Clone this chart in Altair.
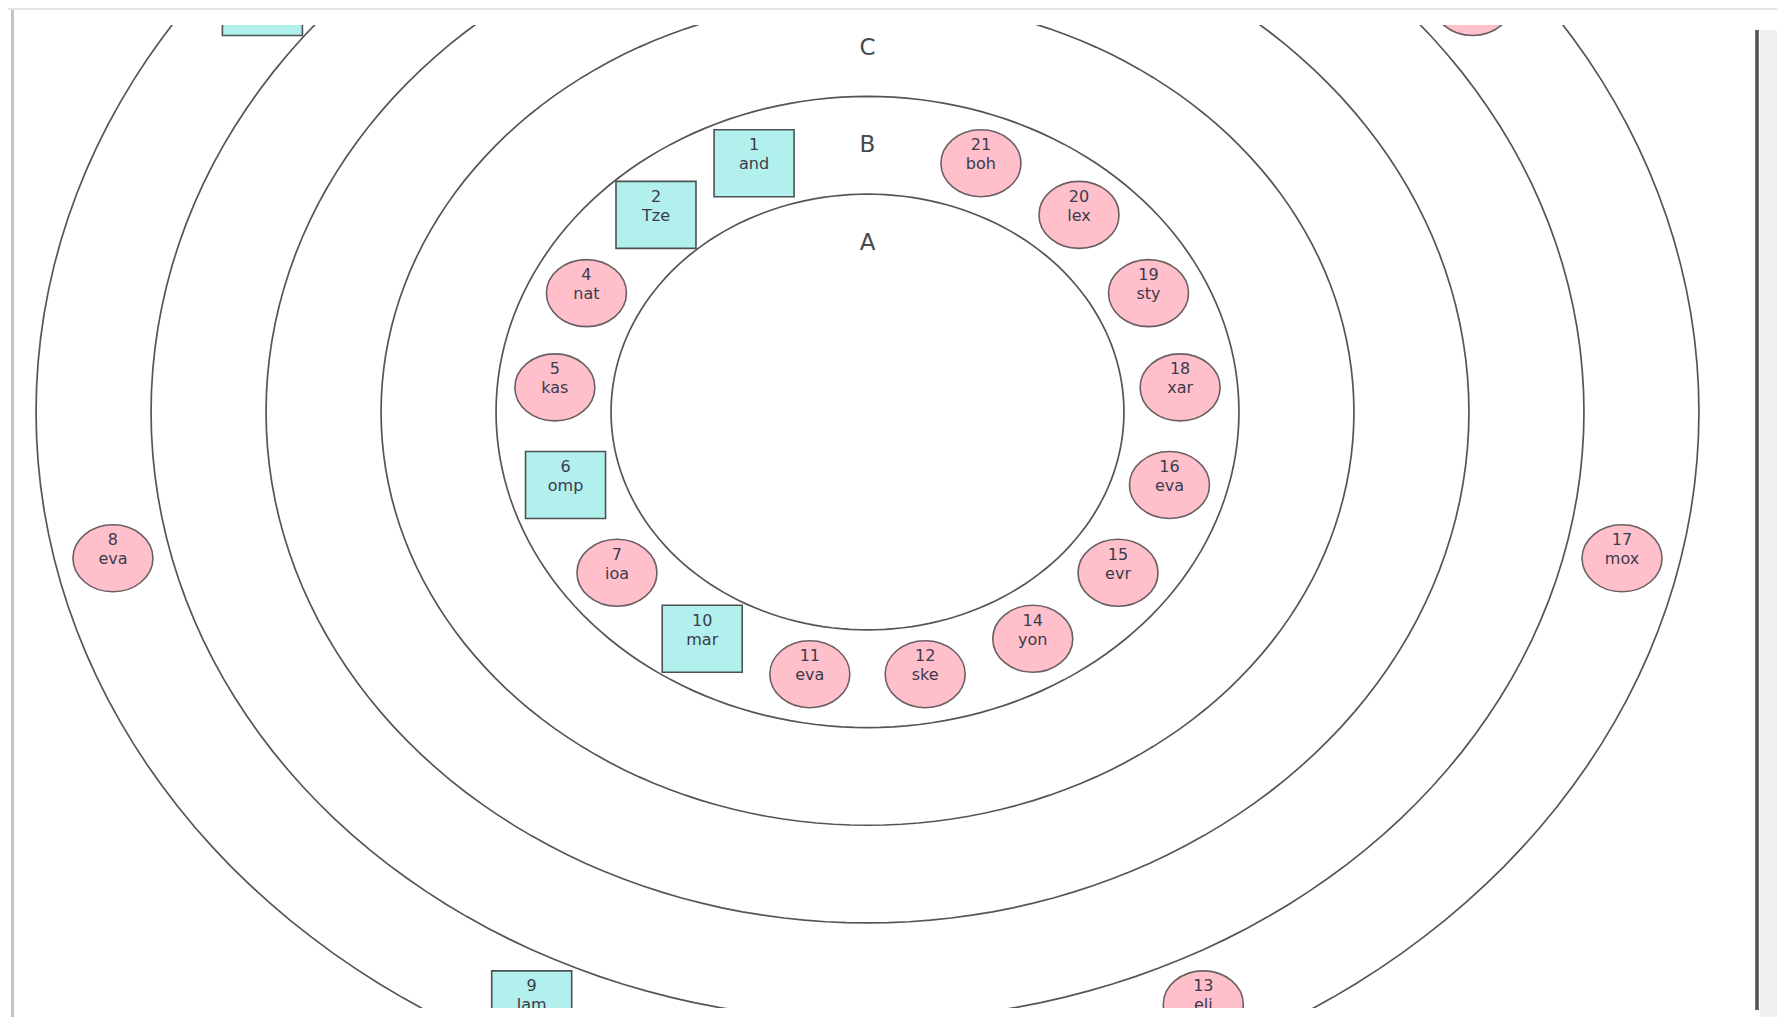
import altair as alt
import pandas as pd

# ---- data -------------------------------------------------------------
ring_names = ["A", "B", "C", "D", "E", "F"]
ring_outer = [2.23, 3.23, 4.23, 5.23, 6.23, 7.23]   # outer radius of each ring
ring_slots = [1, 17, 1, 1, 1, 7]                      # slots around each ring (slot 0 = label)

node_ids = [1, 2, 3, 4, 5, 6, 7, 8, 9, 10, 11, 12, 13, 14, 15, 16, 17, 18, 19, 20, 21, 22]
node_names = ["and", "Tze", "", "nat", "kas", "omp", "ioa", "eva", "lam", "mar", "eva",
              "ske", "eli", "yon", "evr", "eva", "mox", "xar", "sty", "lex", "boh", ""]
node_kind = ["box", "box", "box", "ellipse", "ellipse", "box", "ellipse", "ellipse", "box",
             "box", "ellipse", "ellipse", "ellipse", "ellipse", "ellipse", "ellipse",
             "ellipse", "ellipse", "ellipse", "ellipse", "ellipse", "ellipse"]
node_ring = ["B", "B", "F", "B", "B", "B", "B", "F", "F", "B", "B",
             "B", "F", "B", "B", "B", "F", "B", "B", "B", "B", "F"]
node_slot = [1, 2, 1, 3, 4, 5, 6, 2, 3, 7, 8, 9, 4, 10, 11, 12, 5, 13, 14, 15, 16, 6]

rings = pd.DataFrame({"ring": ring_names, "outer": ring_outer, "slots": ring_slots})
rings["mid"] = rings["outer"] - 0.5

nodes = pd.DataFrame({"id": [str(i) for i in node_ids], "name": node_names,
                      "kind": node_kind, "ring": node_ring, "slot": node_slot})
nodes = nodes.merge(rings[["ring", "mid", "slots"]], on="ring", how="left")

# ---- scales -----------------------------------------------------------
W, H = 1743, 983
X_DOM = [-7.4217, 7.7348]
Y_DOM = [-6.1003, 3.9611]
xs = alt.Scale(domain=X_DOM, nice=False, zero=False)
ys = alt.Scale(domain=Y_DOM, nice=False, zero=False)
X = lambda f: alt.X(f, type="quantitative", scale=xs, axis=None)
Y = lambda f: alt.Y(f, type="quantitative", scale=ys, axis=None)
in_view = f"datum.y < {Y_DOM[1]}"   # texts whose anchor lies inside the visible window

ellipse_path = "M -1 0 A 1 0.8375 0 1 1 1 0 A 1 0.8375 0 1 1 -1 0 Z"
box_path = "M -1 -0.8375 L 1 -0.8375 L 1 0.8375 L -1 0.8375 Z"

ring_lines = alt.Chart(rings).transform_calculate(
    t="sequence(0, 362, 2)"
).transform_flatten(["t"]).transform_calculate(
    x="datum.outer * cos(datum.t * PI / 180)",
    y="datum.outer * sin(datum.t * PI / 180)",
).mark_line(clip=True, stroke="#555555", strokeWidth=1.7).encode(
    x=X("x"), y=Y("y"), detail="ring:N", order="t:Q"
)

node_pos = alt.Chart(nodes).transform_calculate(
    ang="(90 + datum.slot * 360 / datum.slots) * PI / 180"
).transform_calculate(
    x="datum.mid * cos(datum.ang)",
    y="datum.mid * sin(datum.ang)",
)

node_marks = node_pos.mark_point(
    clip=True, filled=True, opacity=1, fillOpacity=1, strokeOpacity=1, strokeWidth=1.6
).encode(
    x=X("x"), y=Y("y"),
    shape=alt.Shape("kind:N", scale=alt.Scale(domain=["ellipse", "box"],
                                              range=[ellipse_path, box_path]), legend=None),
    fill=alt.Fill("kind:N", scale=alt.Scale(domain=["ellipse", "box"],
                                            range=["#ffc0cb", "#b2f0ee"]), legend=None),
    stroke=alt.Stroke("kind:N", scale=alt.Scale(domain=["ellipse", "box"],
                                                range=["#6a5f62", "#4a5252"]), legend=None),
    size=alt.value(6400),
)

node_text = node_pos.transform_filter(in_view)

num_text = node_text.mark_text(
    clip=True, dy=-18, fontSize=16, font="DejaVu Sans", color="#3b3b4c"
).encode(x=X("x"), y=Y("y"), text="id:N")

name_text = node_text.mark_text(
    clip=True, dy=1, fontSize=16, font="DejaVu Sans", color="#3b3b4c"
).encode(x=X("x"), y=Y("y"), text="name:N")

ring_labels = alt.Chart(rings).transform_calculate(
    x="0", y="datum.mid"
).transform_filter(in_view).mark_text(
    clip=True, fontSize=23, font="DejaVu Sans", color="#484850"
).encode(x=X("x"), y=Y("y"), text="ring:N")

# ---- window frame decoration ------------------------------------------
right_strip = alt.Chart(rings).mark_rect(fill="#f0f0f0").encode(
    x=alt.value(1746), x2=alt.value(1771), y=alt.value(5), y2=alt.value(992)
)
right_line = alt.Chart(rings).mark_rule(stroke="#555555", strokeWidth=2.5).encode(
    x=alt.value(1743), y=alt.value(5), y2=alt.value(985)
)
left_line = alt.Chart(rings).mark_rule(stroke="#c4c4c4", strokeWidth=2).encode(
    x=alt.value(-1.5), y=alt.value(-16), y2=alt.value(992)
)
top_line = alt.Chart(rings).mark_rule(stroke="#e4e4e4", strokeWidth=2).encode(
    x=alt.value(-6), x2=alt.value(1763), y=alt.value(-16.5)
)

chart = alt.layer(
    ring_lines, node_marks, num_text, name_text, ring_labels,
    right_strip, right_line, left_line, top_line
).properties(
    width=W, height=H,
    autosize=alt.AutoSizeParams(type="none"),
    padding={"left": 6, "top": 17, "right": 20, "bottom": 9},
    background="white",
).configure_view(stroke=None)

chart.save("out.html", embed_options={"renderer": "svg", "actions": False})
